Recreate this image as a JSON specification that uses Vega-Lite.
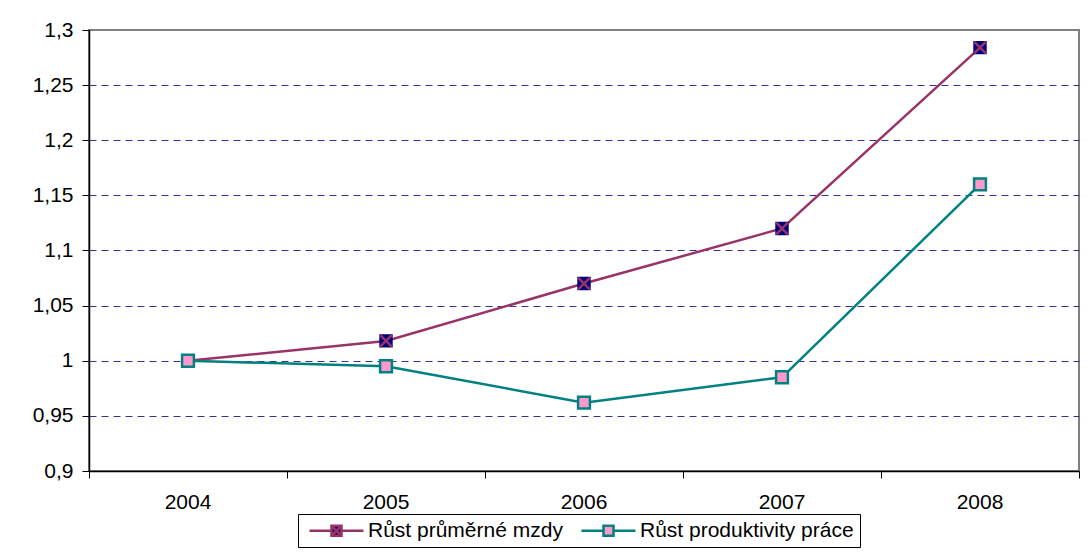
{
  "$schema": "https://vega.github.io/schema/vega-lite/v6.json",
  "width": 990,
  "height": 441,
  "autosize": "none",
  "padding": {"left": 89, "top": 30, "right": 8, "bottom": 85},
  "background": "white",
  "config": {
    "font": "Liberation Sans",
    "view": {"stroke": "#808080", "strokeWidth": 2}
  },
  "data": {
    "values": [
      {"year": "2004", "series": "Růst průměrné mzdy", "value": 1.0},
      {"year": "2005", "series": "Růst průměrné mzdy", "value": 1.018},
      {"year": "2006", "series": "Růst průměrné mzdy", "value": 1.07},
      {"year": "2007", "series": "Růst průměrné mzdy", "value": 1.12},
      {"year": "2008", "series": "Růst průměrné mzdy", "value": 1.284},
      {"year": "2004", "series": "Růst produktivity práce", "value": 1.0},
      {"year": "2005", "series": "Růst produktivity práce", "value": 0.995},
      {"year": "2006", "series": "Růst produktivity práce", "value": 0.962},
      {"year": "2007", "series": "Růst produktivity práce", "value": 0.985},
      {"year": "2008", "series": "Růst produktivity práce", "value": 1.16}
    ]
  },
  "encoding": {
    "x": {
      "field": "year",
      "type": "ordinal",
      "scale": {"type": "band", "paddingInner": 0, "paddingOuter": 0},
      "axis": {
        "title": null,
        "bandPosition": 1,
        "tickExtra": true,
        "labelAngle": 0,
        "grid": false,
        "domainColor": "#000000",
        "domainWidth": 1.5,
        "tickColor": "#000000",
        "tickSize": 7,
        "labelFontSize": 21,
        "labelColor": "#000000",
        "labelPadding": 13
      }
    },
    "y": {
      "field": "value",
      "type": "quantitative",
      "scale": {"domain": [0.9, 1.3], "zero": false, "nice": false},
      "axis": {
        "title": null,
        "values": [0.9, 0.95, 1, 1.05, 1.1, 1.15, 1.2, 1.25, 1.3],
        "labelExpr": "replace(format(datum.value, '.2~f'), '.', ',')",
        "grid": true,
        "gridColor": {"condition": {"test": "datum.value > 1.29 || datum.value < 0.91", "value": "transparent"}, "value": "#333399"},
        "gridDash": [7, 5],
        "gridWidth": 1,
        "domainColor": "#000000",
        "domainWidth": 1.5,
        "tickColor": "#000000",
        "tickSize": 7,
        "labelFontSize": 21,
        "labelColor": "#000000",
        "labelPadding": 9
      }
    }
  },
  "layer": [
    {
      "mark": {"type": "line", "strokeWidth": 2.5},
      "encoding": {
        "color": {
          "field": "series",
          "type": "nominal",
          "scale": {"domain": ["Růst průměrné mzdy", "Růst produktivity práce"], "range": ["#993366", "#008080"]},
          "legend": {
            "title": null,
            "orient": "none",
            "legendX": 209,
            "legendY": 484,
            "direction": "horizontal",
            "columns": 2,
            "symbolType": "M-1,0H3.4M5.4,0H9.8M3.4,-1H5.4V1H3.4Z",
            "symbolSize": 100,
            "symbolStrokeWidth": 2.5,
            "labelFontSize": 21,
            "labelLimit": 500,
            "labelColor": "#000000",
            "labelOffset": 43,
            "columnPadding": 13,
            "padding": 6,
            "strokeColor": "#000000",
            "fillColor": "#ffffff",
            "encode": {
              "symbols": {
                "update": {
                  "fill": {"signal": "datum.value === 'Růst průměrné mzdy' ? '#000080' : '#FF99CC'"},
                  "shape": {"signal": "datum.value === 'Růst průměrné mzdy' ? 'M-1,0H3.4M5.4,0H9.8M3.4,-1H5.4V1H3.4ZM3.4,-1L5.4,1M3.4,1L5.4,-1' : 'M-1,0H3.4M5.4,0H9.8M3.4,-1H5.4V1H3.4Z'"},
                  "opacity": {"value": 1}
                }
              }
            }
          }
        }
      }
    },
    {
      "transform": [{"filter": "datum.series === 'Růst průměrné mzdy'"}],
      "mark": {"type": "point", "shape": "square", "filled": true, "size": 130, "strokeWidth": 2, "fill": "#000080", "stroke": "#000080", "opacity": 1},
      "encoding": {}
    },
    {
      "transform": [{"filter": "datum.series === 'Růst průměrné mzdy'"}],
      "mark": {"type": "point", "shape": "M-1,-1L1,1M-1,1L1,-1", "filled": false, "size": 135, "strokeWidth": 2.5, "color": "#993366", "opacity": 1},
      "encoding": {}
    },
    {
      "transform": [{"filter": "datum.series === 'Růst produktivity práce'"}],
      "mark": {"type": "point", "shape": "square", "filled": true, "size": 140, "strokeWidth": 2.5, "fill": "#FF99CC", "stroke": "#008080", "opacity": 1},
      "encoding": {}
    }
  ]
}
